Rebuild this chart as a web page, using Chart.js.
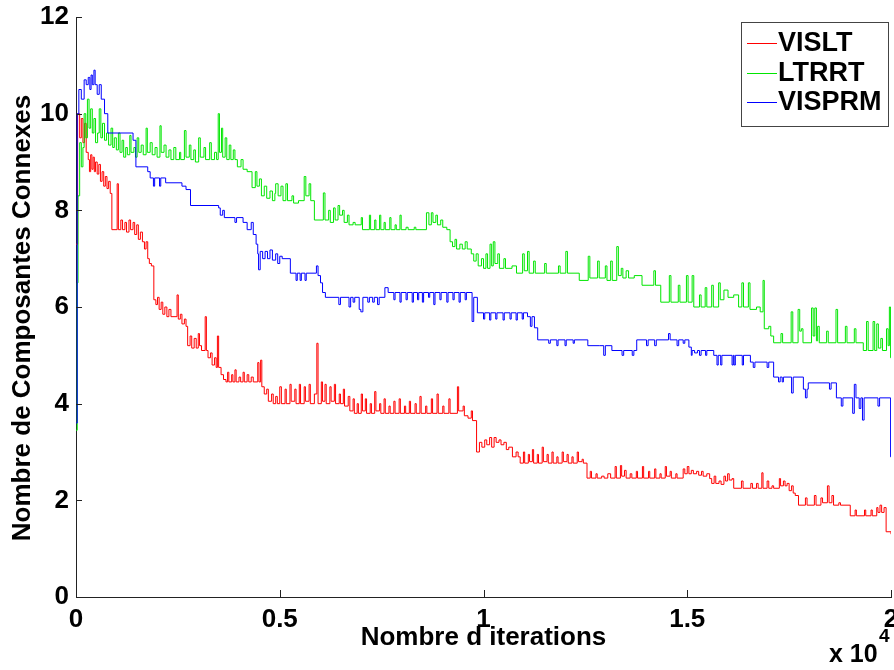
<!DOCTYPE html>
<html>
<head>
<meta charset="utf-8">
<script src="https://cdn.jsdelivr.net/npm/chart.js@4.4.0/dist/chart.umd.min.js"></script>
<style>
html, body { margin: 0; padding: 0; background: #fff; }
#wrap { width: 894px; height: 670px; }
</style>
</head>
<body>
<div id="wrap"><canvas id="myChart"></canvas></div>
<script>
// series: [iteration, composantes connexes]
const seriesNames = ['VISLT', 'LTRRT', 'VISPRM'];
const xTickLabels = ['0', '0.5', '1', '1.5', '2'];

const vislt = [
  [0,7.3],[40,10.0],[90,9.5],[130,9.9],[170,9.4],[210,9.8],[250,9.2],[300,9.05],[330,8.8],[360,9.15],
  [390,8.85],[420,9.1],[450,8.8],[480,9.0],[520,8.75],[560,8.95],[600,8.6],[640,8.8],[680,8.5],[720,8.7],
  [760,8.45],[800,8.6],[840,8.35],[880,7.6],[1010,8.55],[1040,7.6],[1100,7.8],[1140,7.6],[1200,7.75],[1240,7.55],
  [1300,7.8],[1340,7.6],[1400,7.75],[1440,7.5],[1490,7.7],[1530,7.4],[1580,7.55],[1630,7.35],[1680,7.2],[1720,7.35],
  [1760,7.0],[1800,6.9],[1850,6.85],[1910,6.15],[1960,6.05],[2000,6.2],[2040,5.95],[2090,6.1],[2130,5.85],[2180,6.0],
  [2230,5.8],[2280,5.95],[2330,5.8],[2480,6.25],[2510,5.75],[2560,5.85],[2600,5.65],[2660,5.75],[2700,5.6],[2740,5.2],
  [2800,5.4],[2840,5.15],[2900,5.35],[2950,5.15],[3000,5.45],[3030,5.2],[3080,5.1],[3170,5.8],[3200,5.1],[3240,4.95],
  [3300,5.05],[3340,4.8],[3400,4.95],[3440,4.75],[3470,5.4],[3500,4.75],[3560,4.6],[3620,4.5],[3680,4.45],[3720,4.65],
  [3750,4.45],[3820,4.6],[3850,4.45],[3900,4.7],[3930,4.45],[4000,4.55],[4040,4.45],[4100,4.65],[4130,4.45],[4200,4.6],
  [4240,4.45],[4300,4.55],[4350,4.45],[4460,4.85],[4490,4.45],[4530,4.9],[4560,4.35],[4620,4.2],[4680,4.3],[4720,4.05],
  [4800,4.2],[4840,4.0],[4900,4.15],[4940,4.0],[5000,4.35],[5040,4.0],[5130,4.3],[5160,4.0],[5250,4.4],[5280,4.05],
  [5370,4.3],[5400,4.0],[5480,4.4],[5510,4.0],[5600,4.35],[5630,4.05],[5720,4.4],[5750,4.0],[5850,4.2],[5910,5.25],
  [5940,4.0],[6020,4.45],[6050,4.05],[6110,4.4],[6140,4.0],[6230,4.35],[6260,4.05],[6340,4.4],[6370,4.0],[6460,4.2],
  [6490,4.0],[6560,4.3],[6590,3.95],[6680,4.15],[6720,3.85],[6800,4.1],[6830,3.8],[6900,4.0],[6930,3.8],[7000,4.2],
  [7030,3.85],[7100,4.1],[7130,3.8],[7220,4.0],[7250,3.8],[7330,4.25],[7360,3.85],[7450,4.0],[7480,3.8],[7560,4.1],
  [7590,3.8],[7680,3.95],[7710,3.8],[7800,4.05],[7830,3.8],[7930,4.1],[7960,3.8],[8060,3.95],[8090,3.8],[8180,4.05],
  [8210,3.8],[8320,4.0],[8350,3.8],[8440,4.15],[8470,3.8],[8580,3.95],[8610,3.8],[8720,4.1],[8750,3.8],[8860,4.2],
  [8890,3.8],[9000,3.95],[9030,3.8],[9150,4.1],[9180,3.8],[9360,4.35],[9390,3.85],[9500,3.95],[9530,3.75],[9620,3.7],
  [9700,3.85],[9730,3.65],[9830,3.0],[9900,3.2],[9960,3.1],[10030,3.25],[10080,3.15],[10150,3.3],[10200,3.1],[10260,3.3],
  [10310,3.2],[10380,3.25],[10430,3.15],[10500,3.2],[10560,3.05],[10620,3.1],[10710,2.9],[10800,3.0],[10850,2.9],[10900,2.77],
  [10980,3.0],[11010,2.77],[11100,2.95],[11130,2.8],[11200,3.05],[11230,2.77],[11320,2.95],[11350,2.77],[11440,3.1],[11470,2.8],
  [11560,2.95],[11590,2.77],[11680,3.0],[11710,2.77],[11800,2.9],[11830,2.77],[11930,3.0],[11960,2.8],[12050,2.95],[12080,2.77],
  [12170,2.9],[12200,2.77],[12300,3.0],[12330,2.8],[12420,2.85],[12450,2.77],[12540,2.46],[12620,2.6],[12650,2.46],[12760,2.55],
  [12790,2.46],[12900,2.5],[12960,2.46],[13050,2.55],[13120,2.46],[13230,2.7],[13260,2.46],[13360,2.72],[13390,2.5],[13460,2.62],
  [13500,2.46],[13600,2.55],[13640,2.46],[13750,2.6],[13780,2.46],[13900,2.7],[13930,2.46],[14050,2.6],[14080,2.46],[14200,2.65],
  [14230,2.46],[14330,2.55],[14360,2.46],[14460,2.7],[14490,2.5],[14580,2.6],[14610,2.46],[14720,2.55],[14750,2.46],[14900,2.65],
  [14940,2.55],[15000,2.7],[15040,2.55],[15100,2.62],[15150,2.55],[15230,2.6],[15280,2.52],[15350,2.6],[15390,2.5],[15480,2.55],
  [15550,2.45],[15600,2.35],[15660,2.5],[15700,2.35],[15780,2.4],[15830,2.33],[15900,2.5],[15940,2.4],[15990,2.55],[16030,2.42],
  [16100,2.45],[16140,2.25],[16330,2.4],[16370,2.25],[16560,2.35],[16600,2.25],[16700,2.35],[16740,2.25],[16830,2.57],[16860,2.25],
  [16960,2.4],[17000,2.25],[17080,2.3],[17120,2.25],[17260,2.45],[17290,2.3],[17360,2.4],[17400,2.3],[17450,2.35],[17500,2.2],
  [17560,2.3],[17600,2.15],[17650,2.1],[17730,1.9],[17900,2.05],[17940,1.9],[18120,2.1],[18160,1.9],[18280,2.05],[18320,1.95],
  [18440,2.3],[18480,1.95],[18550,2.1],[18590,1.9],[18720,1.95],[18760,1.9],[19000,1.68],[19120,1.8],[19150,1.68],[19350,1.8],
  [19380,1.68],[19510,1.8],[19540,1.68],[19650,1.85],[19680,1.75],[19730,1.9],[19770,1.75],[19830,1.85],[19880,1.35],[20000,1.3]
];

const ltrrt = [
  [0,3.45],[30,6.5],[50,8.3],[90,9.4],[130,8.9],[170,9.3],[200,10.0],[240,9.5],[280,10.3],[320,9.7],
  [360,10.1],[400,9.6],[440,9.9],[480,9.4],[530,9.6],[570,10.1],[610,9.5],[650,9.8],[700,9.45],[750,9.6],
  [800,9.35],[860,9.7],[900,9.3],[940,9.5],[990,9.25],[1040,9.6],[1080,9.2],[1130,9.45],[1170,9.1],[1220,9.3],
  [1260,9.15],[1320,9.55],[1350,9.2],[1420,9.3],[1460,9.1],[1500,9.5],[1540,9.2],[1600,9.35],[1650,9.15],[1720,9.7],
  [1750,9.2],[1820,9.4],[1870,9.15],[1940,9.3],[1990,9.1],[2060,9.75],[2090,9.2],[2160,9.35],[2210,9.1],[2280,9.25],
  [2330,9.05],[2400,9.3],[2450,9.05],[2540,9.2],[2570,9.05],[2660,9.65],[2700,9.1],[2780,9.35],[2820,9.05],[2890,9.25],
  [2930,9.0],[3010,9.5],[3050,9.1],[3140,9.3],[3180,9.05],[3280,9.4],[3320,9.05],[3400,9.2],[3450,9.05],[3490,10.0],
  [3520,9.2],[3570,9.7],[3600,9.1],[3660,9.5],[3700,9.05],[3760,9.35],[3800,9.05],[3860,9.25],[3900,9.05],[3960,8.9],
  [4050,9.05],[4100,8.85],[4200,8.8],[4320,8.47],[4400,8.8],[4440,8.5],[4500,8.65],[4550,8.3],[4620,8.5],[4680,8.25],
  [4760,8.4],[4820,8.2],[4880,8.35],[4900,8.55],[4960,8.3],[5030,8.5],[5080,8.2],[5150,8.55],[5190,8.2],[5300,8.3],
  [5340,8.15],[5460,8.2],[5600,8.7],[5640,8.3],[5720,8.55],[5760,8.2],[5850,7.8],[6070,8.36],[6110,7.8],[6200,8.0],
  [6240,7.75],[6320,8.05],[6360,7.8],[6430,8.1],[6470,7.9],[6540,8.0],[6580,7.75],[6660,7.9],[6700,7.7],[6800,7.75],
  [6850,7.7],[7000,7.85],[7030,7.6],[7140,7.6],[7200,7.9],[7230,7.6],[7330,7.8],[7360,7.6],[7450,7.9],[7480,7.6],
  [7560,7.75],[7590,7.6],[7700,7.85],[7730,7.6],[7830,7.7],[7860,7.6],[7950,7.9],[7980,7.6],[8100,7.65],[8150,7.6],
  [8300,7.65],[8340,7.6],[8600,7.95],[8660,7.7],[8720,7.95],[8760,7.75],[8830,7.9],[8870,7.7],[8950,7.8],[9000,7.65],
  [9100,7.6],[9180,7.35],[9240,7.25],[9300,7.4],[9340,7.2],[9420,7.3],[9480,7.2],[9550,7.35],[9600,7.2],[9700,7.1],
  [9760,6.95],[9820,7.1],[9870,6.85],[9950,7.0],[10000,6.8],[10060,7.1],[10100,6.8],[10160,7.3],[10200,6.85],[10240,7.35],
  [10280,6.9],[10350,7.1],[10390,6.8],[10500,7.0],[10540,6.8],[10700,6.85],[10810,6.7],[10960,7.1],[11000,6.75],[11080,7.15],
  [11120,6.7],[11230,6.95],[11270,6.7],[11500,6.9],[11540,6.7],[11840,6.85],[11880,6.7],[12020,7.15],[12060,6.7],[12350,6.55],
  [12570,7.05],[12610,6.6],[12800,6.95],[12840,6.6],[12990,6.85],[13030,6.55],[13120,6.95],[13160,6.55],[13270,7.25],[13310,6.65],
  [13380,6.8],[13420,6.6],[13500,6.75],[13560,6.6],[13700,6.65],[13890,6.45],[14180,6.75],[14220,6.45],[14350,6.1],[14560,6.65],
  [14600,6.1],[14780,6.45],[14820,6.1],[14980,6.65],[15020,6.1],[15120,6.65],[15160,6.0],[15300,6.25],[15340,6.0],[15440,6.4],
  [15480,6.0],[15600,6.45],[15640,6.0],[15770,6.5],[15810,6.15],[15900,6.35],[16000,6.2],[16140,6.25],[16260,6.0],[16340,6.5],
  [16380,6.0],[16500,6.5],[16540,5.95],[16700,6.0],[16790,5.9],[16860,6.55],[16890,5.55],[17000,5.6],[17050,5.4],[17120,5.26],
  [17300,5.45],[17340,5.26],[17550,5.9],[17590,5.26],[17720,5.95],[17760,5.5],[17800,5.55],[17840,5.26],[18050,5.98],[18090,5.4],
  [18130,5.98],[18170,5.3],[18200,5.6],[18240,5.26],[18420,5.5],[18460,5.26],[18650,5.95],[18690,5.26],[18880,5.6],[18920,5.26],
  [19100,5.55],[19140,5.26],[19320,5.1],[19400,5.7],[19440,5.1],[19560,5.7],[19600,5.1],[19650,5.65],[19690,5.15],[19750,5.35],
  [19790,5.1],[19890,5.55],[19930,5.2],[19960,6.0],[19990,4.95],[20000,4.95]
];

const visprm = [
  [0,3.6],[30,10.0],[70,10.5],[130,10.3],[200,10.7],[250,10.6],[300,10.75],[340,10.5],[370,10.8],[400,10.6],
  [440,10.9],[470,10.6],[520,10.4],[570,10.6],[620,10.3],[700,10.0],[780,9.6],[1400,9.45],[1470,8.9],[1760,8.8],
  [1820,8.67],[1900,8.5],[1930,8.67],[2050,8.5],[2080,8.67],[2200,8.57],[2600,8.5],[2700,8.43],[2810,8.1],[3500,8.05],
  [3540,7.9],[3600,8.0],[3640,7.85],[3900,7.75],[3940,7.85],[4100,7.75],[4200,7.6],[4300,7.75],[4350,7.5],[4420,7.3],
  [4460,7.1],[4480,6.77],[4520,7.15],[4580,7.0],[4640,7.15],[4700,7.0],[4760,7.18],[4820,6.97],[4900,7.1],[4950,6.9],
  [5000,7.05],[5060,7.0],[5260,6.7],[5400,6.55],[5430,6.7],[5500,6.55],[5530,6.7],[5620,6.55],[5650,6.7],[5900,6.85],
  [5940,6.65],[6000,6.5],[6050,6.3],[6120,6.2],[6450,6.05],[6490,6.2],[6700,6.0],[6740,6.2],[6800,6.1],[6840,6.2],
  [6950,5.95],[6990,5.9],[7040,6.2],[7160,6.1],[7200,6.2],[7280,6.1],[7320,6.2],[7400,6.05],[7440,6.2],[7580,6.4],
  [7660,6.3],[7800,6.15],[7830,6.3],[7950,6.1],[7980,6.3],[8100,6.15],[8130,6.3],[8250,6.1],[8280,6.3],[8380,6.15],
  [8410,6.3],[8500,6.1],[8530,6.3],[8650,6.2],[8680,6.3],[8780,6.05],[8810,6.3],[8930,6.15],[8960,6.3],[9100,6.1],
  [9130,6.3],[9250,6.15],[9280,6.3],[9400,6.1],[9430,6.3],[9550,6.15],[9580,6.3],[9720,5.7],[9760,6.2],[9850,5.88],
  [10000,5.75],[10030,5.88],[10150,5.73],[10180,5.88],[10300,5.75],[10330,5.88],[10480,5.73],[10510,5.88],[10650,5.75],[10680,5.88],
  [10800,5.73],[10830,5.88],[10950,5.75],[10980,5.88],[11080,5.8],[11150,5.6],[11190,5.8],[11250,5.57],[11330,5.32],[11600,5.25],
  [11640,5.32],[11800,5.2],[11830,5.32],[12000,5.2],[12030,5.32],[12200,5.25],[12230,5.32],[12560,5.2],[12840,5.2],[12950,5.0],
  [12990,5.2],[13150,5.1],[13400,5.0],[13440,5.1],[13650,5.0],[13690,5.1],[13760,5.32],[14000,5.2],[14040,5.32],[14200,5.2],
  [14240,5.32],[14540,5.45],[14580,5.32],[14750,5.2],[14790,5.32],[14900,5.25],[14940,5.32],[15040,5.17],[15100,5.0],[15120,5.1],
  [15180,5.05],[15250,5.1],[15300,5.0],[15340,5.1],[15450,5.0],[15480,5.1],[15650,5.0],[15730,4.8],[15760,5.0],[15820,4.8],
  [15850,5.0],[16100,4.8],[16130,5.0],[16150,4.8],[16180,5.0],[16350,4.8],[16380,5.0],[16550,4.86],[16620,4.75],[16660,4.86],
  [16960,4.75],[17000,4.86],[17120,4.55],[17240,4.45],[17280,4.55],[17330,4.45],[17360,4.55],[17560,4.22],[17600,4.55],[17850,4.3],
  [17900,4.12],[17940,4.3],[17970,4.43],[18490,4.3],[18530,4.43],[18660,4.12],[18780,3.95],[18820,4.12],[19060,3.8],[19100,4.4],
  [19140,4.12],[19220,3.9],[19260,4.12],[19300,3.66],[19340,4.12],[19680,3.95],[19720,4.12],[19990,2.9],[20000,2.9]
];

const seriesColors = ['#ff0000', '#00e600', '#0000ff'];
const yTitle = 'Nombre de Composantes Connexes';
const FONT = "'Liberation Sans', Arial, Helvetica, sans-serif";
const axisColor = '#222';

const toXY = (arr) => arr.map((p) => ({ x: p[0], y: p[1] }));

// MATLAB style: ticks point into the plot, legend in a boxed corner, x 10^4 multiplier
const matlabBits = {
  id: 'matlabBits',
  afterDatasetsDraw(chart) {
    const { ctx, chartArea, scales } = chart;
    ctx.save();
    ctx.strokeStyle = axisColor;
    ctx.lineWidth = 1;
    ctx.beginPath();
    scales.x.ticks.forEach((t) => {
      const px = Math.round(scales.x.getPixelForValue(t.value)) + 0.5;
      ctx.moveTo(px, chartArea.bottom);
      ctx.lineTo(px, chartArea.bottom - 7);
    });
    scales.y.ticks.forEach((t) => {
      const py = Math.round(scales.y.getPixelForValue(t.value)) + 0.5;
      ctx.moveTo(chartArea.left, py);
      ctx.lineTo(chartArea.left + 6, py);
    });
    ctx.stroke();

    // legend box
    const bx = 741, by = 22, bw = 147, bh = 104;
    ctx.fillStyle = '#fff';
    ctx.fillRect(bx, by, bw, bh);
    ctx.strokeStyle = '#444';
    ctx.strokeRect(bx + 0.5, by + 0.5, bw, bh);
    ctx.font = 'bold 27px ' + FONT;
    ctx.textBaseline = 'middle';
    ctx.textAlign = 'left';
    seriesNames.forEach((name, i) => {
      const ly = Math.round(by + 21 + i * 29.5);
      ctx.fillStyle = seriesColors[i];
      ctx.fillRect(bx + 6, ly, 30, 1);
      ctx.fillStyle = '#000';
      ctx.fillText(name, bx + 37, ly + 1);
    });

    // y label, a bit below the axis middle as in the source figure
    ctx.save();
    ctx.translate(23, 318);
    ctx.rotate(-Math.PI / 2);
    ctx.textAlign = 'center';
    ctx.textBaseline = 'middle';
    ctx.font = 'bold 26px ' + FONT;
    ctx.fillText(yTitle, 0, 0);
    ctx.restore();

    // exponent under the x axis
    ctx.fillStyle = '#000';
    ctx.textAlign = 'left';
    ctx.textBaseline = 'alphabetic';
    ctx.font = 'bold 25px ' + FONT;
    ctx.fillText('x 10', 829, 662);
    ctx.font = 'bold 19px ' + FONT;
    ctx.fillText('4', 879, 642);
    ctx.restore();
  }
};

const ctx = document.getElementById('myChart').getContext('2d');

const myChart = new Chart(ctx, {
  type: 'line',
  data: {
    datasets: [vislt, ltrrt, visprm].map((s, i) => ({
      label: seriesNames[i],
      data: toXY(s),
      borderColor: seriesColors[i],
      backgroundColor: seriesColors[i],
      borderWidth: 1,
      pointRadius: 0,
      stepped: true,
      fill: false,
      order: 3 - i
    }))
  },
  options: {
    responsive: true,
    maintainAspectRatio: false,
    animation: false,
    layout: { padding: { top: 17, right: 3, left: 0, bottom: 0 } },
    plugins: {
      legend: { display: false },
      tooltip: { enabled: false }
    },
    scales: {
      x: {
        type: 'linear',
        min: 0,
        max: 20000,
        afterFit: (scale) => {
          scale.height = 73;
          scale.paddingLeft = 0;
          scale.paddingRight = 0;
        },
        afterBuildTicks: (scale) => {
          scale.ticks = xTickLabels.map((l, i) => ({ value: i * 5000 }));
        },
        ticks: {
          color: '#000',
          font: { family: FONT, size: 26, weight: 'bold' },
          padding: 7,
          maxRotation: 0,
          autoSkip: false,
          callback: (v, i) => xTickLabels[i]
        },
        grid: { drawOnChartArea: false, drawTicks: false },
        border: { display: true, color: axisColor, width: 1 },
        title: {
          display: true,
          text: 'Nombre d iterations',
          color: '#000',
          font: { family: FONT, size: 26, weight: 'bold' },
          padding: { top: 0, bottom: 17 }
        }
      },
      y: {
        min: 0,
        max: 12,
        afterFit: (scale) => {
          scale.width = 76;
          scale.paddingTop = 0;
          scale.paddingBottom = 0;
        },
        ticks: {
          stepSize: 2,
          color: '#000',
          font: { family: FONT, size: 26, weight: 'bold' },
          padding: 7
        },
        grid: { drawOnChartArea: false, drawTicks: false },
        border: { display: true, color: axisColor, width: 1 }
      }
    }
  },
  plugins: [matlabBits]
});
</script>
</body>
</html>
